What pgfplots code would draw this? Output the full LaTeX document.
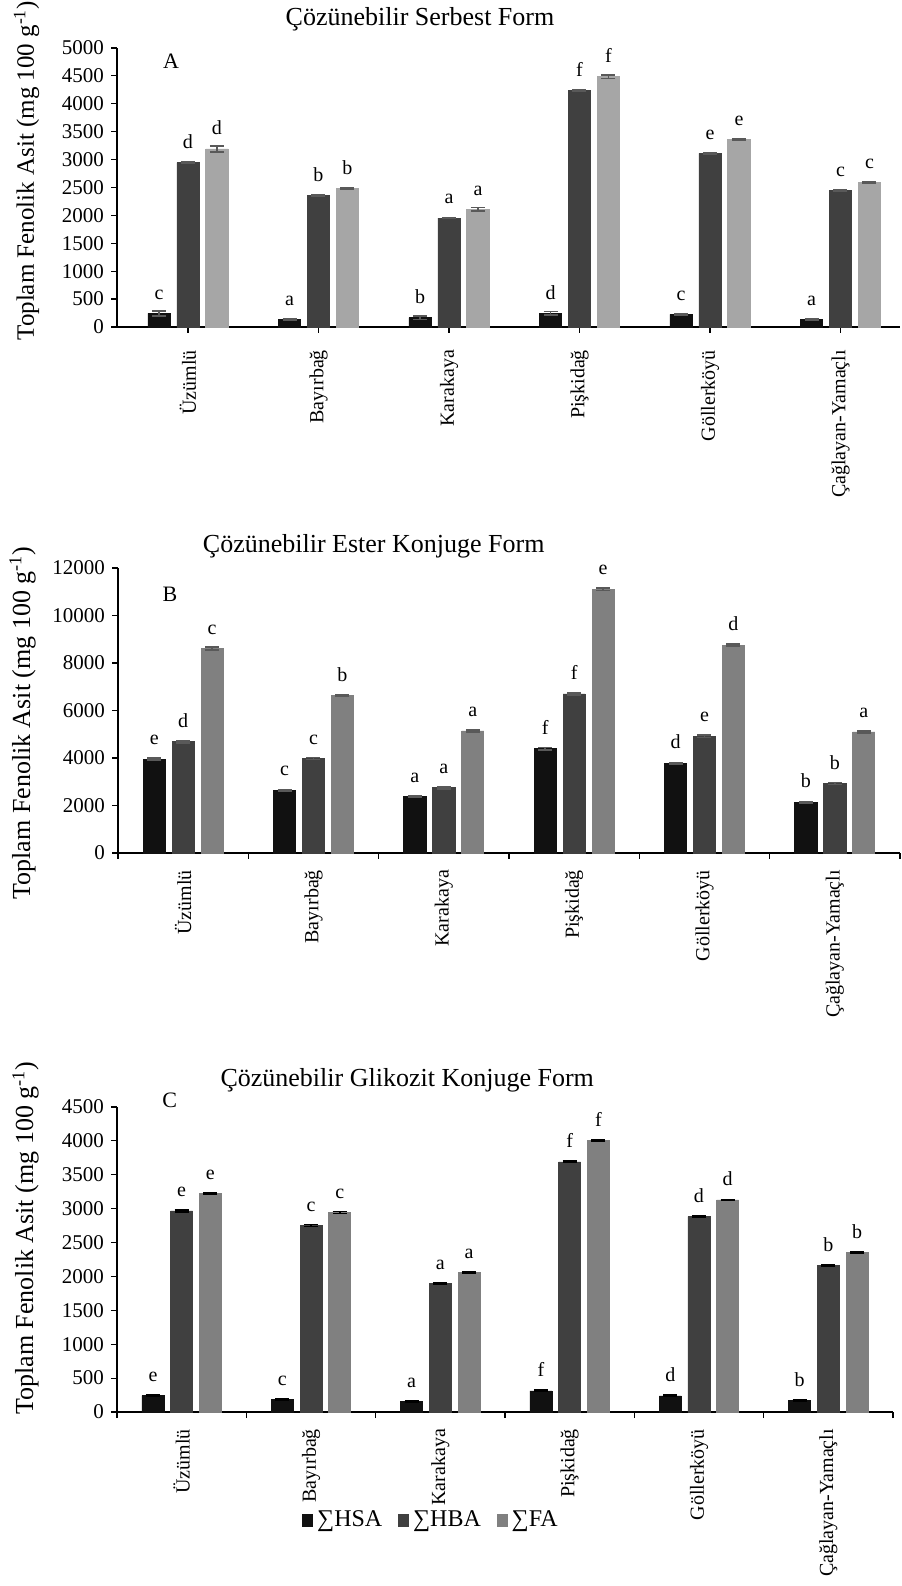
\documentclass[border=0pt]{standalone}
\usepackage{fontspec}
\setmainfont{Liberation Serif}
\usepackage{pgfplots}
\pgfplotsset{compat=1.18}
\usepackage{pgfplotstable}

\definecolor{cHSA}{HTML}{111111}
\definecolor{cHBA}{HTML}{404040}
\definecolor{cFAa}{HTML}{A6A6A6}
\definecolor{cFA}{HTML}{808080}
\definecolor{cErr}{HTML}{595959}

\pgfplotstableread{
hsa hsae hsal hba hbae hbal fa fae fal
245 45 c 2944 12 d 3190 50 d
138 10 a 2353 10 b 2484 12 b
167 35 b 1953 10 a 2108 30 a
245 30 d 4235 8 f 4486 30 f
227 12 c 3111 10 e 3357 12 e
138 10 a 2443 10 c 2592 12 c
}\dataA

\pgfplotstableread{
hsa hsae hsal hba hbae hbal fa fae fal
3950 40 e 4678 50 d 8613 70 c
2647 30 c 3978 40 c 6625 40 b
2381 30 a 2745 40 a 5140 40 a
4398 50 f 6695 40 f 11106 60 e
3782 30 d 4916 60 e 8754 50 d
2143 30 b 2927 40 b 5098 40 a
}\dataB

\pgfplotstableread{
hsa hsae hsal hba hbae hbal fa fae fal
242 10 e 2966 12 e 3222 12 e
182 10 c 2750 15 c 2946 15 c
153 8 a 1894 10 a 2056 10 a
311 10 f 3689 10 f 4004 10 f
237 10 d 2882 10 d 3128 10 d
173 10 b 2164 10 b 2351 10 b
}\dataC

\tikzset{ptitle/.style={font=\fontsize{13}{15}\selectfont, anchor=base}}

\pgfplotsset{
  panel/.style={
    scale only axis,
    axis lines*=left,
    axis line style={-, line width=0.75pt},
    tick align=outside,
    major tick length=3pt,
    tick style={black, line width=0.6pt},
    ymin=0,
    scaled y ticks=false,
    /pgf/number format/assume math mode=true,
    /pgf/number format/1000 sep={},
    yticklabel style={font=\fontsize{10.5}{12}\selectfont},
    xticklabel style={font=\fontsize{10}{11}\selectfont, yshift=-5pt, rotate=90, anchor=east},
    ylabel style={font=\fontsize{13}{15}\selectfont, anchor=base},
    point meta=explicit symbolic,
    every node near coord/.append style={font=\fontsize{10}{11}\selectfont, text=black, anchor=south, yshift=3.5pt},
    clip=false,
  },
  bars/.style 2 args={ybar, bar width=0.17, bar shift=0pt, fill=#1, draw=#1, nodes near coords,
    /pgfplots/error bars/y dir=both,
    /pgfplots/error bars/y explicit,
    /pgfplots/error bars/error bar style={line width=0.8pt, #2},
    /pgfplots/error bars/error mark options={rotate=90, mark size=3.5pt, line width=0.8pt, #2}},
}

\begin{document}
\begin{tikzpicture}
\useasboundingbox (0,0) rectangle (450.5pt,793pt);

% ---------------- Panel A ----------------
\begin{axis}[panel,
  at={(58.5pt,629.5pt)}, anchor=south west,
  width=391.5pt, height=139.5pt,
  xmin=-0.544, xmax=5.456, ymax=5000,
  ytick={0,500,...,5000},
  xtick={0,...,5},
  xticklabels={Üzümlü,Bayırbağ,Karakaya,Pişkidağ,Göllerköyü,Çağlayan-Yamaçlı},
  ylabel={Toplam Fenolik Asit (mg 100 g\textsuperscript{-1})},
  ylabel style={at={(rel axis cs:-0.106,0.56)}, font=\fontsize{12.5}{14}\selectfont},
]
\addplot[bars={cHSA}{cErr}] table[x expr=\coordindex-0.222, y=hsa, y error=hsae, meta=hsal]{\dataA};
\addplot[bars={cHBA}{cErr}] table[x expr=\coordindex, y=hba, y error=hbae, meta=hbal]{\dataA};
\addplot[bars={cFAa}{cErr}] table[x expr=\coordindex+0.222, y=fa, y error=fae, meta=fal]{\dataA};
\node[ptitle] at (rel axis cs:0.387,1.082) {Çözünebilir Serbest Form};
\node[font=\fontsize{11}{12}\selectfont, anchor=base] at (rel axis cs:0.069,0.928) {A};
\end{axis}

% ---------------- Panel B ----------------
\begin{axis}[panel,
  at={(59pt,366.5pt)}, anchor=south west,
  width=391pt, height=142.5pt,
  xmin=-0.5, xmax=5.5, ymax=12000,
  ytick={0,2000,...,12000},
  xtick={-0.5,0.5,...,5.5},
  xticklabels={},
  extra x ticks={0,1,2,3,4,5},
  extra x tick labels={Üzümlü,Bayırbağ,Karakaya,Pişkidağ,Göllerköyü,Çağlayan-Yamaçlı},
  extra x tick style={major tick length=0pt},
  ylabel={Toplam Fenolik Asit (mg 100 g\textsuperscript{-1})},
  ylabel style={at={(rel axis cs:-0.1125,0.456)}},
]
\addplot[bars={cHSA}{cErr}] table[x expr=\coordindex-0.222, y=hsa, y error=hsae, meta=hsal]{\dataB};
\addplot[bars={cHBA}{cErr}] table[x expr=\coordindex, y=hba, y error=hbae, meta=hbal]{\dataB};
\addplot[bars={cFA}{cErr}] table[x expr=\coordindex+0.222, y=fa, y error=fae, meta=fal]{\dataB};
\node[ptitle] at (rel axis cs:0.327,1.053) {Çözünebilir Ester Konjuge Form};
\node[font=\fontsize{11}{12}\selectfont, anchor=base] at (rel axis cs:0.0665,0.881) {B};
\end{axis}

% ---------------- Panel C ----------------
\begin{axis}[panel,
  at={(58.5pt,87pt)}, anchor=south west,
  width=388pt, height=152.5pt,
  xmin=-0.5, xmax=5.5, ymax=4500,
  ytick={0,500,...,4500},
  xtick={-0.5,0.5,...,5.5},
  xticklabels={},
  extra x ticks={0,1,2,3,4,5},
  extra x tick labels={Üzümlü,Bayırbağ,Karakaya,Pişkidağ,Göllerköyü,Çağlayan-Yamaçlı},
  extra x tick style={major tick length=0pt},
  ylabel={Toplam Fenolik Asit (mg 100 g\textsuperscript{-1})},
  ylabel style={at={(rel axis cs:-0.108,0.57)}},
  legend style={at={(rel axis cs:0.406,-0.354)}, anchor=center, draw=none, fill=none,
    legend columns=3, font=\fontsize{12}{14}\selectfont,
    /tikz/every even column/.append style={column sep=6pt}},
]
\addplot[bars={cHSA}{black}, forget plot] table[x expr=\coordindex-0.222, y=hsa, y error=hsae, meta=hsal]{\dataC};
\addplot[bars={cHBA}{black}, forget plot] table[x expr=\coordindex, y=hba, y error=hbae, meta=hbal]{\dataC};
\addplot[bars={cFA}{black}, forget plot] table[x expr=\coordindex+0.222, y=fa, y error=fae, meta=fal]{\dataC};
\node[ptitle] at (rel axis cs:0.374,1.066) {Çözünebilir Glikozit Konjuge Form};
\node[font=\fontsize{11}{12}\selectfont, anchor=base] at (rel axis cs:0.068,1.0) {C};
\addlegendimage{legend image code/.code={\fill[cHSA] (0pt,-3pt) rectangle (5pt,3pt);}}
\addlegendentry{∑HSA}
\addlegendimage{legend image code/.code={\fill[cHBA] (0pt,-3pt) rectangle (5pt,3pt);}}
\addlegendentry{∑HBA}
\addlegendimage{legend image code/.code={\fill[cFA] (0pt,-3pt) rectangle (5pt,3pt);}}
\addlegendentry{∑FA}
\end{axis}
\end{tikzpicture}
\end{document}
